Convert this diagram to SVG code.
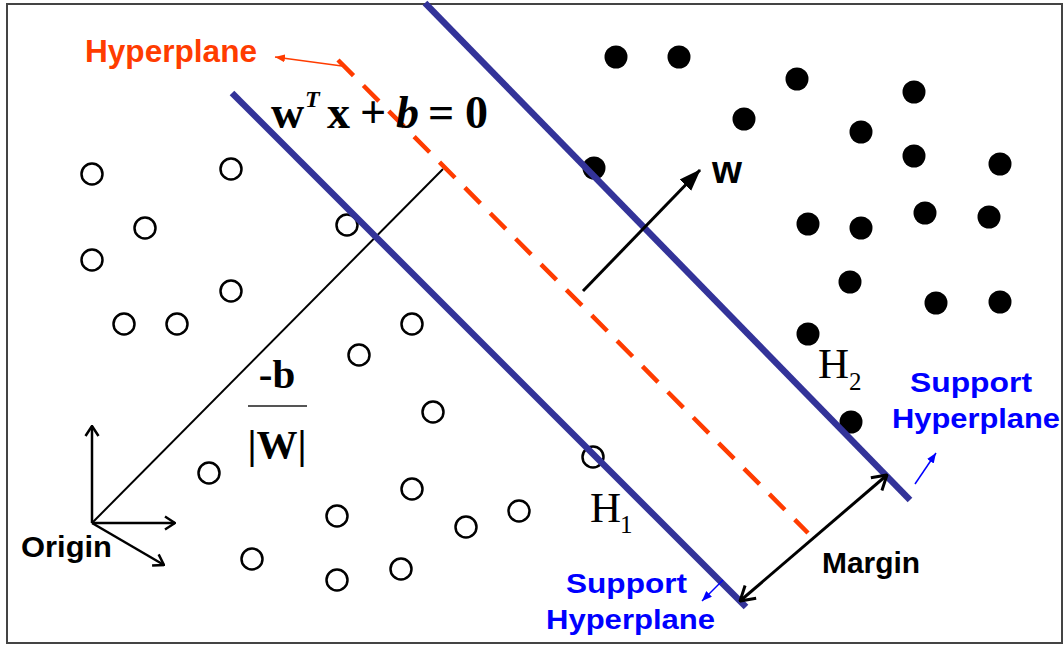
<svg xmlns="http://www.w3.org/2000/svg" width="1064" height="646" viewBox="0 0 1064 646">
<style>
.neg{fill:#fff;stroke:#000;stroke-width:2.5}
.pos{fill:#000}
.sv{fill:none;stroke:#333399;stroke-width:6.5}
.sans{font-family:"Liberation Sans",Arial,sans-serif;font-weight:bold}
.serif{font-family:"Liberation Serif","Times New Roman",serif}
.blue{fill:#0000ff}
</style>
<defs>
<marker id="chev" markerUnits="userSpaceOnUse" viewBox="0 0 12 16" refX="11" refY="8" markerWidth="12" markerHeight="16" orient="auto-start-reverse"><path d="M1,1.5 L11,8 L1,14.5" fill="none" stroke="#000" stroke-width="2.5"/></marker>
<marker id="chevL" markerUnits="userSpaceOnUse" viewBox="0 0 16 20" refX="15" refY="10" markerWidth="16" markerHeight="20" orient="auto-start-reverse"><path d="M1,1.5 L15,10 L1,18.5" fill="none" stroke="#000" stroke-width="3"/></marker>
<marker id="tri" markerUnits="userSpaceOnUse" viewBox="0 0 22 18" refX="21" refY="9" markerWidth="22" markerHeight="18" orient="auto"><path d="M0,1 L22,9 L0,17 Z" fill="#000"/></marker>
<marker id="triB" markerUnits="userSpaceOnUse" viewBox="0 0 10 8" refX="10" refY="4" markerWidth="10" markerHeight="8" orient="auto"><path d="M0,0 L10,4 L0,8 Z" fill="#0000ff"/></marker>
<marker id="triR" markerUnits="userSpaceOnUse" viewBox="0 0 10 8" refX="10" refY="4" markerWidth="10" markerHeight="8" orient="auto"><path d="M0,0 L10,4 L0,8 Z" fill="#ff3c00"/></marker>
</defs>
<rect x="0" y="0" width="1064" height="646" fill="#fff"/>
<rect x="7" y="4" width="1055" height="639" fill="none" stroke="#444" stroke-width="2"/>

<g id="negative-samples">
<circle class="neg" cx="92" cy="174" r="10.5"/>
<circle class="neg" cx="231" cy="169" r="10.5"/>
<circle class="neg" cx="145" cy="228" r="10.5"/>
<circle class="neg" cx="347" cy="225" r="10.5"/>
<circle class="neg" cx="92" cy="260" r="10.5"/>
<circle class="neg" cx="231" cy="291" r="10.5"/>
<circle class="neg" cx="124" cy="324" r="10.5"/>
<circle class="neg" cx="177" cy="324" r="10.5"/>
<circle class="neg" cx="412" cy="324" r="10.5"/>
<circle class="neg" cx="359" cy="355" r="10.5"/>
<circle class="neg" cx="433" cy="412" r="10.5"/>
<circle class="neg" cx="209" cy="473" r="10.5"/>
<circle class="neg" cx="412" cy="489" r="10.5"/>
<circle class="neg" cx="337" cy="516" r="10.5"/>
<circle class="neg" cx="466" cy="527" r="10.5"/>
<circle class="neg" cx="519" cy="511" r="10.5"/>
<circle class="neg" cx="252" cy="559" r="10.5"/>
<circle class="neg" cx="337" cy="580" r="10.5"/>
<circle class="neg" cx="401" cy="569" r="10.5"/>
<circle class="neg" cx="593" cy="457" r="10.5"/>
</g>

<g id="positive-samples">
<circle class="pos" cx="616" cy="57" r="11.5"/>
<circle class="pos" cx="679" cy="57" r="11.5"/>
<circle class="pos" cx="797" cy="79" r="11.5"/>
<circle class="pos" cx="914" cy="92" r="11.5"/>
<circle class="pos" cx="744" cy="119" r="11.5"/>
<circle class="pos" cx="861" cy="132" r="11.5"/>
<circle class="pos" cx="914" cy="156" r="11.5"/>
<circle class="pos" cx="1000" cy="164" r="11.5"/>
<circle class="pos" cx="594" cy="168" r="11.5"/>
<circle class="pos" cx="808" cy="224" r="11.5"/>
<circle class="pos" cx="861" cy="228" r="11.5"/>
<circle class="pos" cx="925" cy="213" r="11.5"/>
<circle class="pos" cx="989" cy="217" r="11.5"/>
<circle class="pos" cx="850" cy="282" r="11.5"/>
<circle class="pos" cx="936" cy="303" r="11.5"/>
<circle class="pos" cx="1000" cy="302" r="11.5"/>
<circle class="pos" cx="808" cy="334" r="11.5"/>
<circle class="pos" cx="851" cy="422" r="11.5"/>
</g>

<g id="connectors">
<line x1="92" y1="523" x2="443" y2="169" stroke="#000" stroke-width="2"/>
<line x1="92" y1="523" x2="92" y2="426" stroke="#000" stroke-width="2.5" marker-end="url(#chev)"/>
<line x1="92" y1="523" x2="175" y2="523" stroke="#000" stroke-width="2.5" marker-end="url(#chev)"/>
<line x1="92" y1="523" x2="164" y2="565" stroke="#000" stroke-width="2.5" marker-end="url(#chev)"/>
<line class="sv" x1="232" y1="93" x2="746" y2="607"/>
<line class="sv" x1="425" y1="3" x2="910" y2="500"/>
<line x1="338" y1="60" x2="808" y2="533" stroke="#ff3c00" stroke-width="4.5" stroke-dasharray="22 14"/>
<line x1="342" y1="66" x2="275" y2="57" stroke="#ff3c00" stroke-width="1.5" marker-end="url(#triR)"/>
<line x1="583" y1="291" x2="700" y2="170" stroke="#000" stroke-width="3" marker-end="url(#tri)"/>
<line x1="740" y1="601" x2="887" y2="475" stroke="#000" stroke-width="3" marker-start="url(#chevL)" marker-end="url(#chevL)"/>
<line x1="915" y1="484" x2="936" y2="453" stroke="#0000ff" stroke-width="1.5" marker-end="url(#triB)"/>
<line x1="723" y1="580" x2="702" y2="601" stroke="#0000ff" stroke-width="1.5" marker-end="url(#triB)"/>
<line x1="248" y1="406" x2="307" y2="406" stroke="#555" stroke-width="2"/>
</g>

<g id="labels">
<text class="sans" x="85" y="62" font-size="31" fill="#ff3c00" textLength="172" lengthAdjust="spacingAndGlyphs">Hyperplane</text>
<text class="serif" font-weight="bold" font-size="46" fill="#000"><tspan x="271" y="128">w</tspan><tspan x="305" y="107" font-size="24" font-style="italic">T</tspan><tspan x="327" y="128">x</tspan><tspan x="360" y="128">+</tspan><tspan x="396" y="128" font-style="italic">b</tspan><tspan x="428" y="128">=</tspan><tspan x="465" y="128">0</tspan></text>
<text class="serif" font-weight="bold" font-size="41" x="277" y="388" text-anchor="middle">-b</text>
<text class="serif" font-weight="bold" font-size="41" x="277" y="458" text-anchor="middle">|W|</text>
<text class="sans" x="712" y="183" font-size="38" textLength="30" lengthAdjust="spacingAndGlyphs">w</text>
<text class="sans" x="21" y="557" font-size="29" textLength="91" lengthAdjust="spacingAndGlyphs">Origin</text>
<text class="sans" x="822" y="573" font-size="29" textLength="98" lengthAdjust="spacingAndGlyphs">Margin</text>
<text class="serif" font-size="43"><tspan x="818" y="378">H</tspan><tspan x="849" y="390" font-size="25">2</tspan></text>
<text class="serif" font-size="43"><tspan x="590" y="522">H</tspan><tspan x="620" y="533" font-size="25">1</tspan></text>
<text class="sans blue" x="910" y="392" font-size="28" textLength="122" lengthAdjust="spacingAndGlyphs">Support</text>
<text class="sans blue" x="892" y="428" font-size="28" textLength="168" lengthAdjust="spacingAndGlyphs">Hyperplane</text>
<text class="sans blue" x="566" y="593" font-size="28" textLength="121" lengthAdjust="spacingAndGlyphs">Support</text>
<text class="sans blue" x="546" y="629" font-size="28" textLength="169" lengthAdjust="spacingAndGlyphs">Hyperplane</text>
</g>
</svg>
